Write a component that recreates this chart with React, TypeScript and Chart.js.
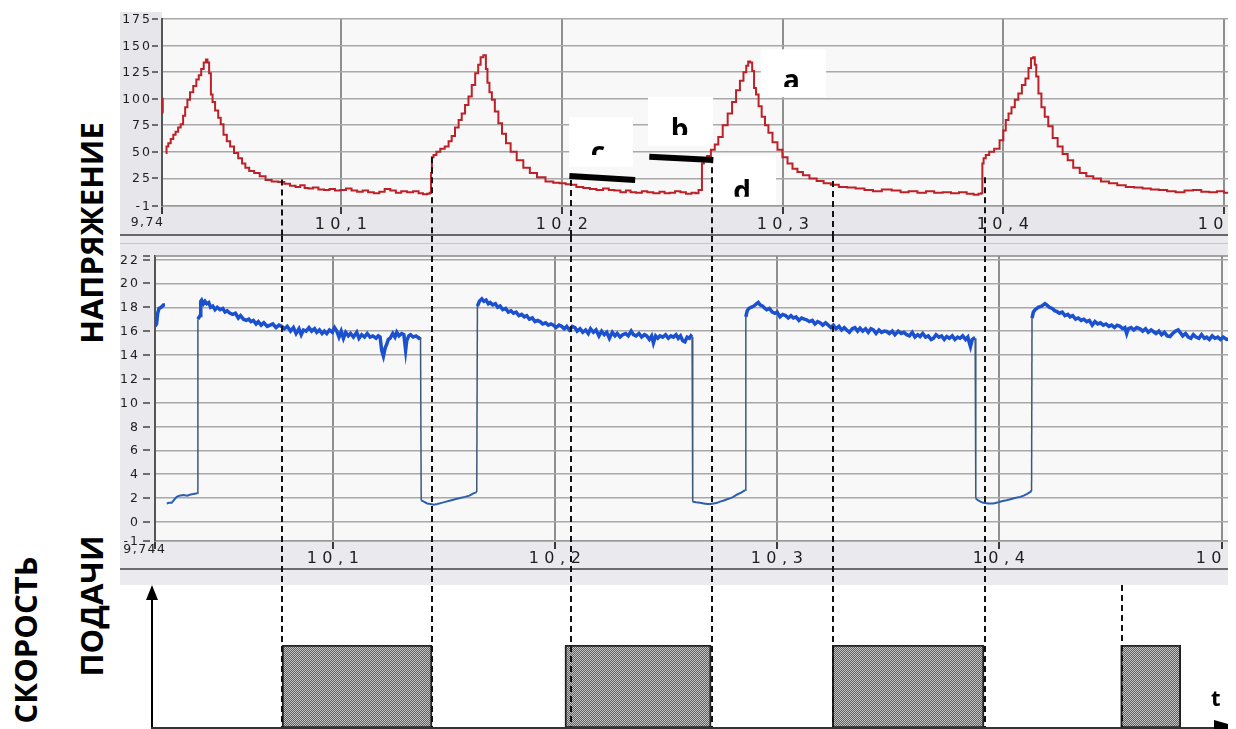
import React, { useEffect, useRef } from "react";
import { Chart, registerables } from "chart.js";
Chart.register(...registerables);

// ---------------- DATA ----------------
// Voltage panel (axis units of the upper time axis)
const voltXTicks = [10.0189, 10.1, 10.2, 10.3, 10.4, 10.5];
const voltXLabels = ["9,74", "10,1", "10,2", "10,3", "10,4", "10,5"];
const voltYTicks = [-1, 25, 50, 75, 100, 125, 150, 175];
const voltYLabels = ["-1", "25", "50", "75", "100", "125", "150", "175"];

const voltLead: [number, number | null][] = [[10.0189, 100], [10.0196, 87], [10.0200, null]];
const voltPulse1: [number, number | null][] = [
  [10.0206, 49], [10.0213, 55], [10.0222, 58], [10.0235, 62], [10.0245, 66], [10.0256, 69], [10.0268, 73], [10.0279, 76],
  [10.0290, 84], [10.0298, 92], [10.0310, 99], [10.0322, 106], [10.0339, 112], [10.0350, 118], [10.0361, 122], [10.0372, 128],
  [10.0384, 134], [10.0392, 137], [10.0398, 134], [10.0407, 124], [10.0414, 104], [10.0422, 97], [10.0437, 89], [10.0450, 82],
  [10.0460, 76], [10.0475, 66], [10.0490, 60], [10.0505, 55], [10.0525, 49], [10.0543, 44], [10.0560, 39], [10.0573, 35],
  [10.0595, 32], [10.0618, 30], [10.0645, 27], [10.0671, 23.5], [10.0700, 22], [10.0731, 21.5], [10.0755, 20], [10.0783, 18],
  [10.0805, 17], [10.0825, 18.5], [10.0845, 16], [10.0860, 15.5], [10.0885, 16.5], [10.0910, 14.5], [10.0935, 14], [10.0960, 15],
  [10.0985, 13.5], [10.1009, 14], [10.1035, 15.5], [10.1060, 13.5], [10.1086, 12.5], [10.1110, 13.5], [10.1135, 12], [10.1162, 11],
  [10.1185, 12.5], [10.1210, 15], [10.1236, 13.5], [10.1260, 11.5], [10.1285, 13], [10.1313, 12], [10.1340, 13], [10.1362, 11],
  [10.1380, 10], [10.1398, 10.5], [10.1405, 11.5],
];
const voltPulse2: [number, number | null][] = [
  [10.1410, 30], [10.1413, 45], [10.1425, 47], [10.1439, 50], [10.1460, 53], [10.1479, 55], [10.1495, 60], [10.1507, 65],
  [10.1525, 73], [10.1540, 80], [10.1553, 86], [10.1570, 94], [10.1584, 102], [10.1600, 113], [10.1615, 124], [10.1627, 132],
  [10.1637, 139], [10.1652, 141], [10.1660, 128], [10.1666, 115], [10.1678, 106], [10.1688, 99], [10.1705, 88], [10.1720, 77],
  [10.1738, 67], [10.1756, 58], [10.1780, 50], [10.1811, 42], [10.1840, 35], [10.1870, 30], [10.1905, 26], [10.1947, 22],
  [10.1975, 21], [10.2005, 20.5], [10.2030, 19.5], [10.2051, 19], [10.2080, 17], [10.2114, 16], [10.2140, 15], [10.2173, 14],
  [10.2200, 15.5], [10.2225, 14], [10.2250, 13.5], [10.2280, 12], [10.2300, 13.5], [10.2322, 12], [10.2350, 11.5], [10.2375, 13],
  [10.2399, 12], [10.2430, 11], [10.2455, 12.5], [10.2476, 11], [10.2500, 11.5], [10.2525, 13], [10.2549, 12], [10.2575, 10.5],
  [10.2600, 11.5], [10.2612, 11], [10.2626, 14], [10.2633, 14],
];
const voltPulse3: [number, number | null][] = [
  [10.2636, 39], [10.2650, 43], [10.2665, 46], [10.2685, 52], [10.2700, 57], [10.2717, 64], [10.2740, 75], [10.2762, 86],
  [10.2780, 97], [10.2798, 108], [10.2815, 117], [10.2830, 125], [10.2840, 131], [10.2848, 135], [10.2858, 134], [10.2866, 126],
  [10.2875, 110], [10.2884, 104], [10.2898, 93], [10.2912, 83], [10.2928, 75], [10.2943, 68], [10.2965, 59], [10.2988, 52],
  [10.3010, 45], [10.3034, 39], [10.3055, 34], [10.3079, 31], [10.3105, 28], [10.3138, 25], [10.3170, 22.5], [10.3201, 20.5],
  [10.3235, 19], [10.3274, 17], [10.3310, 16.5], [10.3351, 15.5], [10.3390, 14], [10.3428, 13], [10.3470, 14.5], [10.3518, 13.5],
  [10.3550, 12], [10.3591, 13], [10.3630, 11.5], [10.3668, 13], [10.3705, 11.5], [10.3745, 12], [10.3780, 11], [10.3817, 12],
  [10.3850, 10.5], [10.3880, 9.5], [10.3894, 10.5], [10.3903, 11],
];
const voltPulse4: [number, number | null][] = [
  [10.3906, 39], [10.3914, 44], [10.3926, 47], [10.3945, 50], [10.3971, 53], [10.3994, 61], [10.4005, 70], [10.4016, 80],
  [10.4030, 86], [10.4043, 92], [10.4060, 99], [10.4075, 105], [10.4092, 113], [10.4107, 119], [10.4120, 129], [10.4130, 138],
  [10.4139, 139], [10.4145, 132], [10.4152, 121], [10.4165, 105], [10.4179, 92], [10.4195, 83], [10.4211, 74], [10.4235, 63],
  [10.4256, 55], [10.4280, 48], [10.4302, 42], [10.4330, 35], [10.4361, 30], [10.4390, 27], [10.4424, 25], [10.4460, 22],
  [10.4496, 20.5], [10.4535, 18.5], [10.4573, 17], [10.4610, 16.5], [10.4650, 15.5], [10.4685, 14.5], [10.4723, 14], [10.4760, 13],
  [10.4800, 12], [10.4840, 13.5], [10.4877, 14], [10.4915, 12.5], [10.4949, 12], [10.4985, 13], [10.5013, 11.5], [10.5060, 12.5],
  [10.5150, 12],
];

// Wire-feed-speed panel (axis units of the lower time axis)
const speedXTicks = [10.0200, 10.1, 10.2, 10.3, 10.4, 10.5];
const speedXLabels = ["9,744", "10,1", "10,2", "10,3", "10,4", "10,5"];
const speedYTicks = [-1.6, 0, 2, 4, 6, 8, 10, 12, 14, 16, 18, 20, 22];
const speedYLabels = ["-1", "0", "2", "4", "6", "8", "10", "12", "14", "16", "18", "20", "22"];

const speedLead: [number, number | null][] = [
  [10.0200, 16.4], [10.0207, 16.6], [10.0212, 17.5], [10.0218, 17.9], [10.0228, 18.0], [10.0238, 18.2], [10.0245, 18.2], [10.0249, null],
];
const speedLow1: [number, number | null][] = [
  [10.0253, 1.55], [10.0263, 1.6], [10.0275, 1.6], [10.0288, 1.9], [10.0298, 2.1], [10.0310, 2.2], [10.0328, 2.25], [10.0345, 2.2],
  [10.0360, 2.3], [10.0373, 2.35], [10.0391, 2.4],
];
const speedHigh1: [number, number | null][] = [
  [10.0393, 17.0], [10.0403, 17.3], [10.0406, 18.5], [10.0410, 18.6], [10.0418, 18.3], [10.0425, 18.5], [10.0433, 18.3], [10.0442, 18.4],
  [10.0450, 18.0], [10.0460, 18.1], [10.0470, 17.8], [10.0480, 18.0], [10.0493, 17.8], [10.0505, 17.9], [10.0515, 17.6], [10.0525, 17.7],
  [10.0538, 17.5], [10.0550, 17.4], [10.0562, 17.5], [10.0575, 17.1], [10.0585, 17.3], [10.0598, 17.0], [10.0610, 16.9], [10.0622, 17.0],
  [10.0632, 16.8], [10.0643, 16.9], [10.0655, 16.6], [10.0665, 16.8], [10.0678, 16.5], [10.0690, 16.7], [10.0705, 16.4], [10.0718, 16.5],
  [10.0730, 16.6], [10.0745, 16.3], [10.0758, 16.5], [10.0770, 16.4], [10.0782, 16.2], [10.0795, 16.4], [10.0810, 16.0], [10.0823, 16.3],
  [10.0835, 15.8], [10.0848, 16.2], [10.0858, 15.7], [10.0868, 16.1], [10.0880, 16.0], [10.0893, 16.3], [10.0905, 16.0], [10.0918, 16.2],
  [10.0928, 15.9], [10.0940, 16.1], [10.0952, 15.8], [10.0962, 16.0], [10.0973, 15.8], [10.0985, 16.1], [10.0998, 15.9], [10.1008, 16.3],
  [10.1018, 16.0], [10.1028, 15.5], [10.1038, 16.0], [10.1048, 15.4], [10.1058, 15.9], [10.1070, 15.6], [10.1080, 15.8], [10.1093, 15.5],
  [10.1108, 15.9], [10.1118, 15.4], [10.1130, 15.7], [10.1143, 15.5], [10.1155, 15.8], [10.1168, 15.5], [10.1180, 15.6], [10.1195, 15.4],
  [10.1205, 15.6], [10.1213, 15.5], [10.1220, 14.4], [10.1228, 13.9], [10.1236, 14.6], [10.1243, 14.9], [10.1250, 15.3], [10.1258, 15.4],
  [10.1270, 15.8], [10.1280, 15.5], [10.1288, 15.9], [10.1298, 15.6], [10.1310, 15.8], [10.1320, 15.7], [10.1328, 14.4], [10.1333, 15.2],
  [10.1342, 15.6], [10.1350, 15.7], [10.1362, 15.5], [10.1375, 15.6], [10.1388, 15.4], [10.1395, 15.5],
];
const speedLow2: [number, number | null][] = [
  [10.1398, 1.8], [10.1410, 1.7], [10.1425, 1.55], [10.1440, 1.5], [10.1455, 1.45], [10.1470, 1.5], [10.1490, 1.6], [10.1510, 1.7],
  [10.1530, 1.8], [10.1550, 1.9], [10.1573, 2.0], [10.1595, 2.1], [10.1615, 2.2], [10.1633, 2.4], [10.1648, 2.5],
];
const speedHigh2: [number, number | null][] = [
  [10.1651, 18.1], [10.1660, 18.5], [10.1671, 18.7], [10.1680, 18.5], [10.1690, 18.6], [10.1700, 18.3], [10.1708, 18.4], [10.1720, 18.2],
  [10.1732, 18.3], [10.1742, 18.0], [10.1753, 18.1], [10.1765, 17.8], [10.1778, 17.9], [10.1790, 17.6], [10.1802, 17.7], [10.1813, 17.5],
  [10.1825, 17.6], [10.1838, 17.3], [10.1850, 17.4], [10.1862, 17.2], [10.1873, 17.3], [10.1885, 17.0], [10.1898, 17.1], [10.1910, 16.8],
  [10.1922, 16.9], [10.1933, 16.8], [10.1945, 16.6], [10.1958, 16.7], [10.1970, 16.5], [10.1982, 16.6], [10.1993, 16.5], [10.2005, 16.3],
  [10.2018, 16.5], [10.2030, 16.4], [10.2042, 16.2], [10.2053, 16.4], [10.2065, 16.1], [10.2078, 16.4], [10.2090, 16.3], [10.2100, 16.0],
  [10.2113, 16.2], [10.2125, 15.9], [10.2138, 16.1], [10.2150, 15.8], [10.2160, 16.2], [10.2173, 15.9], [10.2185, 16.1], [10.2198, 15.6],
  [10.2210, 16.0], [10.2222, 15.7], [10.2233, 15.9], [10.2245, 15.4], [10.2258, 15.9], [10.2270, 15.6], [10.2280, 15.8], [10.2293, 15.5],
  [10.2305, 15.7], [10.2318, 15.8], [10.2330, 15.6], [10.2343, 16.0], [10.2353, 15.7], [10.2365, 15.6], [10.2378, 15.8], [10.2390, 15.5],
  [10.2403, 15.7], [10.2413, 15.6], [10.2425, 15.3], [10.2435, 15.6], [10.2443, 15.0], [10.2453, 15.6], [10.2463, 15.4], [10.2473, 15.6],
  [10.2485, 15.5], [10.2498, 15.7], [10.2510, 15.4], [10.2522, 15.6], [10.2533, 15.5], [10.2545, 15.7], [10.2555, 15.4], [10.2565, 15.6],
  [10.2575, 15.2], [10.2585, 15.1], [10.2595, 15.5], [10.2605, 15.4], [10.2612, 15.6], [10.2617, 15.5],
];
const speedLow3: [number, number | null][] = [
  [10.2620, 1.7], [10.2635, 1.65], [10.2653, 1.6], [10.2670, 1.55], [10.2685, 1.5], [10.2698, 1.5], [10.2715, 1.55], [10.2730, 1.6],
  [10.2743, 1.7], [10.2760, 1.8], [10.2775, 1.9], [10.2790, 2.0], [10.2803, 2.1], [10.2820, 2.3], [10.2838, 2.45], [10.2856, 2.66],
];
const speedHigh3: [number, number | null][] = [
  [10.2859, 17.2], [10.2865, 17.7], [10.2872, 17.9], [10.2882, 18.0], [10.2895, 18.1], [10.2908, 18.3], [10.2915, 18.4], [10.2923, 18.2],
  [10.2935, 18.1], [10.2945, 17.9], [10.2953, 17.8], [10.2965, 17.9], [10.2978, 17.6], [10.2990, 17.5], [10.3000, 17.6], [10.3013, 17.2],
  [10.3025, 17.4], [10.3038, 17.3], [10.3050, 17.1], [10.3062, 17.3], [10.3073, 17.1], [10.3085, 17.2], [10.3098, 16.9], [10.3110, 17.1],
  [10.3122, 17.0], [10.3133, 16.95], [10.3145, 16.8], [10.3158, 16.9], [10.3170, 16.6], [10.3182, 16.8], [10.3193, 16.7], [10.3205, 16.5],
  [10.3218, 16.7], [10.3230, 16.5], [10.3242, 16.3], [10.3253, 16.5], [10.3265, 16.2], [10.3278, 16.4], [10.3290, 16.1], [10.3302, 16.3],
  [10.3313, 16.1], [10.3325, 15.9], [10.3338, 16.2], [10.3350, 16.3], [10.3362, 16.0], [10.3373, 16.25], [10.3385, 16.0], [10.3398, 16.2],
  [10.3410, 15.9], [10.3422, 16.2], [10.3433, 16.1], [10.3445, 15.8], [10.3458, 16.1], [10.3470, 15.9], [10.3482, 16.0], [10.3493, 15.97],
  [10.3505, 15.8], [10.3518, 16.0], [10.3530, 15.7], [10.3545, 16.0], [10.3558, 15.8], [10.3570, 15.9], [10.3583, 15.7], [10.3595, 15.6],
  [10.3608, 15.9], [10.3620, 15.5], [10.3633, 15.7], [10.3643, 15.55], [10.3655, 15.8], [10.3668, 15.5], [10.3680, 15.6], [10.3693, 15.3],
  [10.3703, 15.4], [10.3715, 15.7], [10.3728, 15.5], [10.3740, 15.6], [10.3752, 15.3], [10.3763, 15.55], [10.3775, 15.4], [10.3788, 15.6],
  [10.3800, 15.3], [10.3812, 15.5], [10.3823, 15.4], [10.3835, 15.6], [10.3848, 15.3], [10.3858, 15.5], [10.3865, 15.0], [10.3870, 14.7],
  [10.3878, 15.3], [10.3885, 15.4], [10.3891, 15.4],
];
const speedLow4: [number, number | null][] = [
  [10.3894, 1.97], [10.3905, 1.8], [10.3915, 1.7], [10.3928, 1.6], [10.3950, 1.55], [10.3973, 1.55], [10.3995, 1.65], [10.4015, 1.75],
  [10.4033, 1.82], [10.4050, 1.9], [10.4070, 2.0], [10.4093, 2.1], [10.4110, 2.2], [10.4125, 2.35], [10.4138, 2.5], [10.4145, 2.6],
];
const speedHigh4: [number, number | null][] = [
  [10.4147, 17.1], [10.4153, 17.6], [10.4161, 17.8], [10.4175, 18.0], [10.4190, 18.1], [10.4205, 18.3], [10.4213, 18.2], [10.4225, 18.0],
  [10.4238, 17.9], [10.4250, 17.7], [10.4258, 17.65], [10.4270, 17.5], [10.4283, 17.6], [10.4295, 17.3], [10.4308, 17.4], [10.4318, 17.2],
  [10.4330, 17.3], [10.4343, 17.0], [10.4355, 17.1], [10.4368, 16.9], [10.4380, 17.0], [10.4393, 16.8], [10.4405, 16.9], [10.4418, 16.5],
  [10.4430, 16.8], [10.4443, 16.6], [10.4455, 16.7], [10.4468, 16.5], [10.4480, 16.6], [10.4493, 16.4], [10.4505, 16.5], [10.4518, 16.3],
  [10.4530, 16.5], [10.4543, 16.4], [10.4555, 16.2], [10.4565, 16.3], [10.4573, 15.8], [10.4580, 16.2], [10.4593, 16.3], [10.4605, 16.1],
  [10.4618, 16.3], [10.4633, 16.2], [10.4645, 16.0], [10.4658, 16.2], [10.4670, 15.9], [10.4683, 16.1], [10.4693, 15.97], [10.4705, 15.8],
  [10.4718, 16.0], [10.4730, 15.7], [10.4743, 15.9], [10.4755, 15.6], [10.4768, 15.55], [10.4780, 15.8], [10.4793, 16.0], [10.4805, 16.1],
  [10.4813, 15.9], [10.4825, 15.6], [10.4838, 15.8], [10.4850, 15.5], [10.4862, 15.4], [10.4873, 15.7], [10.4885, 15.5], [10.4898, 15.4],
  [10.4910, 15.7], [10.4923, 15.4], [10.4933, 15.5], [10.4945, 15.3], [10.4958, 15.6], [10.4970, 15.4], [10.4983, 15.5], [10.4995, 15.3],
  [10.5008, 15.5], [10.5023, 15.3], [10.5060, 15.4], [10.5120, 15.3],
];

// Feed schematic (upper time axis units)
const feedStart = [10.0733, 10.2014, 10.3225, 10.4531];
const feedEnd = [10.1412, 10.2676, 10.3912, 10.4803];

// Dashed markers: time and the voltage where each one starts (null = starts below the panels)
const dashTimes = [10.0731, 10.1411, 10.2040, 10.2680, 10.3228, 10.3917, 10.4535];
const dashFromVolt: (number | null)[] = [24, 45, 23.5, 45, 22.5, 26, null];

// Letter marks on the voltage panel
const markLetters = ["a", "b", "c", "d"];
const markBoxT0 = [10.2901, 10.2390, 10.2033, 10.2683];
const markBoxT1 = [10.3197, 10.2685, 10.2322, 10.2970];
const markBoxVTop = [146.5, 101.9, 82.5, 46.1];
const markBoxVBottom = [101.3, 55.8, 36.0, 0];
const markLetterT = [10.3040, 10.2533, 10.2164, 10.2816];
const markLetterV = [108.2, 61.8, 40.7, 3.7];
const markCutV = [111, 65.8, 47, 7.8];
// Thick level bars (b and c)
const levelT0 = [10.2396, 10.2034];
const levelT1 = [10.2686, 10.2332];
const levelV0 = [45.4, 27.2];
const levelV1 = [42.3, 23.5];

// ---------------- STYLE / LAYOUT ----------------
const VOLT_X_MAX = 10.5162;
const SPEED_X_MAX = 10.5173;
const PLOT_BG = "#f8f8f9";
const BAND = "#e6e6eb";
const RED = "#bd2128";
const HIGH_BLUE = "#1b50cf";
const LOW_BLUE = "#2d5fae";
const EDGE_BLUE = "#3e5878";
const TICK_FONT = "12.5px 'DejaVu Sans'";
const XTICK_FONT = "16px 'DejaVu Sans'";
const TICK_COLOR = "#1e1e1e";
const CANVAS_LEFT = 120;
const CANVAS_W = 1140;
const TOP_H = 236;
const MID_TOP = 236;
const MID_H = 349;
const OVL_TOP = 236;
const OVL_H = 493;

function toPoints(...parts: [number, number | null][][]) {
  return parts.flat().map(([x, y]) => ({ x, y }));
}

function setSpacing(ctx: any, v: string) {
  ctx.letterSpacing = v;
}

function drawYTicks(chart: any, values: number[], labels: string[], labelGap: number, t0: number, t1: number, extraTop: boolean) {
  const { ctx, chartArea: a, scales } = chart;
  const ys = scales.y;
  ctx.save();
  ctx.font = TICK_FONT;
  setSpacing(ctx, "2px");
  ctx.fillStyle = TICK_COLOR;
  ctx.textAlign = "right";
  ctx.textBaseline = "middle";
  ctx.strokeStyle = "#444";
  ctx.lineWidth = 1.5;
  values.forEach((v, i) => {
    const y = Math.round(ys.getPixelForValue(v));
    ctx.fillText(labels[i], a.left - labelGap + 2, y + 0.5);
    ctx.beginPath();
    ctx.moveTo(a.left - t0, y);
    ctx.lineTo(a.left - t1, y);
    ctx.stroke();
  });
  if (extraTop) {
    ctx.beginPath();
    ctx.moveTo(a.left - t0, a.top);
    ctx.lineTo(a.left - t1, a.top);
    ctx.stroke();
  }
  setSpacing(ctx, "0px");
  ctx.restore();
}

function drawXTicks(chart: any, values: number[], labels: string[], base: number, firstBase: number, firstRight: number) {
  const { ctx, chartArea: a, scales } = chart;
  const xs = scales.x;
  ctx.save();
  ctx.fillStyle = TICK_COLOR;
  ctx.strokeStyle = "#3a3a3a";
  ctx.lineWidth = 2;
  ctx.textBaseline = "alphabetic";
  values.forEach((v, i) => {
    const x = Math.round(xs.getPixelForValue(v));
    ctx.beginPath();
    ctx.moveTo(x, a.bottom + 1);
    ctx.lineTo(x, a.bottom + 8);
    ctx.stroke();
    if (i === 0) {
      ctx.font = TICK_FONT;
      setSpacing(ctx, "1.5px");
      ctx.textAlign = "right";
      ctx.fillText(labels[i], x + firstRight + 1.5, a.bottom + firstBase);
    } else {
      ctx.font = XTICK_FONT;
      setSpacing(ctx, "5.5px");
      ctx.textAlign = "center";
      ctx.fillText(labels[i], x + 2.5, a.bottom + base);
    }
  });
  setSpacing(ctx, "0px");
  ctx.restore();
}

const voltPlugin = {
  id: "voltDecor",
  beforeDraw(chart: any) {
    const { ctx, chartArea: a, width, height } = chart;
    ctx.save();
    ctx.fillStyle = BAND;
    ctx.fillRect(0, a.top - 7, a.left, a.bottom - a.top + 7);
    ctx.fillRect(0, a.bottom, width, height - a.bottom);
    ctx.fillStyle = PLOT_BG;
    ctx.fillRect(a.left, a.top, a.right - a.left, a.bottom - a.top);
    ctx.fillStyle = "#66666c";
    ctx.fillRect(0, height - 2, width, 2);
    ctx.restore();
  },
  afterDatasetsDraw(chart: any) {
    const { ctx, scales, height } = chart;
    const xs = scales.x;
    const ys = scales.y;
    ctx.save();
    // white label boxes with clipped letters
    markLetters.forEach((ch, i) => {
      const x0 = xs.getPixelForValue(markBoxT0[i]);
      const x1 = xs.getPixelForValue(markBoxT1[i]);
      const y0 = ys.getPixelForValue(markBoxVTop[i]);
      const y1 = ys.getPixelForValue(markBoxVBottom[i]);
      ctx.fillStyle = "#ffffff";
      ctx.fillRect(x0, y0, x1 - x0, y1 - y0);
      const cut = ys.getPixelForValue(markCutV[i]);
      ctx.save();
      ctx.beginPath();
      ctx.rect(x0, y0, x1 - x0, cut - y0);
      ctx.clip();
      ctx.fillStyle = "#000";
      ctx.font = "700 28px 'Open Sans'";
      ctx.textAlign = "center";
      ctx.textBaseline = "alphabetic";
      ctx.fillText(ch, xs.getPixelForValue(markLetterT[i]), ys.getPixelForValue(markLetterV[i]));
      ctx.restore();
    });
    // dashed markers
    ctx.strokeStyle = "#111";
    ctx.lineWidth = 2;
    ctx.setLineDash([6, 4]);
    dashTimes.forEach((t, i) => {
      const v = dashFromVolt[i];
      if (v === null) return;
      const x = Math.round(xs.getPixelForValue(t));
      ctx.beginPath();
      ctx.moveTo(x, ys.getPixelForValue(v));
      ctx.lineTo(x, height);
      ctx.stroke();
    });
    ctx.setLineDash([]);
    // thick level bars
    ctx.lineWidth = 6;
    ctx.strokeStyle = "#000";
    levelT0.forEach((t, i) => {
      ctx.beginPath();
      ctx.moveTo(xs.getPixelForValue(t), ys.getPixelForValue(levelV0[i]));
      ctx.lineTo(xs.getPixelForValue(levelT1[i]), ys.getPixelForValue(levelV1[i]));
      ctx.stroke();
    });
    ctx.restore();
  },
  afterDraw(chart: any) {
    drawYTicks(chart, voltYTicks, voltYLabels, 12, 10, 4, false);
    drawXTicks(chart, voltXTicks, voltXLabels, 23, 20, 1);
  },
};

const speedPlugin = {
  id: "speedDecor",
  beforeDraw(chart: any) {
    const { ctx, chartArea: a, width, height } = chart;
    ctx.save();
    ctx.fillStyle = "#e9e9ee";
    ctx.fillRect(0, 0, width, height);
    ctx.fillStyle = "#c4c4ca";
    ctx.fillRect(0, 7, width, 1);
    ctx.fillStyle = PLOT_BG;
    ctx.fillRect(a.left, a.top, a.right - a.left, a.bottom - a.top);
    ctx.fillStyle = "#6b6b72";
    ctx.fillRect(0, a.bottom + 27, width, 2);
    ctx.fillStyle = "#ebebef";
    ctx.fillRect(0, a.bottom + 29, width, height - a.bottom - 29);
    ctx.restore();
  },
  afterDraw(chart: any) {
    const { ctx, chartArea: a } = chart;
    ctx.save();
    ctx.strokeStyle = "#8a8a8a";
    ctx.lineWidth = 1.5;
    ctx.beginPath();
    ctx.moveTo(a.left, a.top);
    ctx.lineTo(a.right, a.top);
    ctx.stroke();
    ctx.restore();
    drawYTicks(chart, speedYTicks, speedYLabels, 17, 12, 5, true);
    drawXTicks(chart, speedXTicks, speedXLabels, 22, 12, 10);
  },
};

const feedPlugin = {
  id: "feedDecor",
  afterDatasetsDraw(chart: any) {
    const { ctx, chartArea: a, scales, width } = chart;
    const xs = scales.x;
    const belowPanels = 585 - OVL_TOP;
    ctx.save();
    ctx.strokeStyle = "#111";
    ctx.lineWidth = 2;
    ctx.setLineDash([6, 4]);
    dashTimes.forEach((t, i) => {
      const x = Math.round(xs.getPixelForValue(t));
      ctx.beginPath();
      ctx.moveTo(x, dashFromVolt[i] === null ? belowPanels : 0);
      ctx.lineTo(x, a.bottom);
      ctx.stroke();
    });
    ctx.setLineDash([]);
    // axes with arrows
    const ax = a.left - 10;
    ctx.fillStyle = "#000";
    ctx.strokeStyle = "#000";
    ctx.lineWidth = 2;
    ctx.beginPath();
    ctx.moveTo(ax, a.bottom);
    ctx.lineTo(ax, belowPanels + 12);
    ctx.stroke();
    ctx.beginPath();
    ctx.moveTo(ax, belowPanels);
    ctx.lineTo(ax - 6, belowPanels + 15);
    ctx.lineTo(ax + 6, belowPanels + 15);
    ctx.closePath();
    ctx.fill();
    ctx.strokeStyle = "#333";
    ctx.lineWidth = 2;
    ctx.beginPath();
    ctx.moveTo(ax - 1, a.bottom);
    ctx.lineTo(width, a.bottom);
    ctx.stroke();
    const tip = 1242 - CANVAS_LEFT;
    ctx.beginPath();
    ctx.moveTo(tip, a.bottom);
    ctx.lineTo(tip - 28, a.bottom - 8);
    ctx.lineTo(tip - 28, a.bottom + 8);
    ctx.closePath();
    ctx.fill();
    ctx.restore();
  },
};

export default function App() {
  const topRef = useRef<HTMLCanvasElement>(null);
  const midRef = useRef<HTMLCanvasElement>(null);
  const ovlRef = useRef<HTMLCanvasElement>(null);

  useEffect(() => {
    const common: any = {
      animation: false,
      responsive: false,
      devicePixelRatio: 1,
      events: [],
      plugins: { legend: { display: false }, tooltip: { enabled: false } },
    };

    const top = new Chart(topRef.current as HTMLCanvasElement, {
      type: "line",
      data: {
        datasets: [
          {
            data: toPoints(voltLead, voltPulse1, voltPulse2, voltPulse3, voltPulse4) as any,
            borderColor: RED,
            borderWidth: 2,
            pointRadius: 0,
            tension: 0,
            stepped: "middle",
            spanGaps: false,
          },
        ],
      },
      options: {
        ...common,
        layout: { padding: { top: 19, left: 0, right: 0, bottom: 0 } },
        scales: {
          x: {
            type: "linear",
            min: voltXTicks[0],
            max: VOLT_X_MAX,
            ticks: { display: false },
            afterBuildTicks: (s: any) => {
              s.ticks = voltXTicks.map((v) => ({ value: v }));
            },
            afterFit: (s: any) => {
              s.height = 30;
            },
            grid: { color: "#8f8f8f", lineWidth: 2, drawTicks: false },
            border: { display: true, color: "#9a9a9a", width: 1.5 },
          },
          y: {
            type: "linear",
            min: -1,
            max: 175,
            ticks: { display: false },
            afterBuildTicks: (s: any) => {
              s.ticks = voltYTicks.map((v) => ({ value: v }));
            },
            afterFit: (s: any) => {
              s.width = 42;
            },
            grid: { color: "#a8a8a8", lineWidth: 1.5, drawTicks: false },
            border: { display: true, color: "#555", width: 2 },
          },
        },
      } as any,
      plugins: [voltPlugin],
    });

    const segColor = (c: any) => {
      const a = c.p0.parsed.y;
      const b = c.p1.parsed.y;
      if (a > 8 && b > 8) return HIGH_BLUE;
      if (a < 8 && b < 8) return LOW_BLUE;
      return EDGE_BLUE;
    };
    const segWidth = (c: any) => {
      const a = c.p0.parsed.y;
      const b = c.p1.parsed.y;
      if (a > 8 && b > 8) return 3.5;
      if (a < 8 && b < 8) return 2;
      return 1.5;
    };

    const mid = new Chart(midRef.current as HTMLCanvasElement, {
      type: "line",
      data: {
        datasets: [
          {
            data: toPoints(speedLead, speedLow1, speedHigh1, speedLow2, speedHigh2, speedLow3, speedHigh3, speedLow4, speedHigh4) as any,
            borderColor: HIGH_BLUE,
            borderWidth: 2,
            pointRadius: 0,
            tension: 0,
            spanGaps: false,
            segment: { borderColor: segColor, borderWidth: segWidth },
          } as any,
        ],
      },
      options: {
        ...common,
        layout: { padding: { top: 20, left: 0, right: 0, bottom: 0 } },
        scales: {
          x: {
            type: "linear",
            min: speedXTicks[0],
            max: SPEED_X_MAX,
            ticks: { display: false },
            afterBuildTicks: (s: any) => {
              s.ticks = speedXTicks.map((v) => ({ value: v }));
            },
            afterFit: (s: any) => {
              s.height = 44;
            },
            grid: { color: "#8f8f8f", lineWidth: 2, drawTicks: false },
            border: { display: true, color: "#9a9a9a", width: 1.5 },
          },
          y: {
            type: "linear",
            min: -1.6,
            max: 22.3,
            ticks: { display: false },
            afterBuildTicks: (s: any) => {
              s.ticks = speedYTicks.map((v) => ({ value: v }));
            },
            afterFit: (s: any) => {
              s.width = 35;
            },
            grid: { color: "#a8a8a8", lineWidth: 1.5, drawTicks: false },
            border: { display: true, color: "#555", width: 2 },
          },
        },
      } as any,
      plugins: [speedPlugin],
    });

    const pc = document.createElement("canvas");
    pc.width = 2;
    pc.height = 2;
    const pctx = pc.getContext("2d") as CanvasRenderingContext2D;
    pctx.fillStyle = "#5e5e5e";
    pctx.fillRect(0, 0, 2, 2);
    pctx.fillStyle = "#c6c6c6";
    pctx.fillRect(0, 0, 1, 1);
    pctx.fillRect(1, 1, 1, 1);
    const octx = (ovlRef.current as HTMLCanvasElement).getContext("2d") as CanvasRenderingContext2D;
    const pattern = octx.createPattern(pc, "repeat");

    const ovl = new Chart(ovlRef.current as HTMLCanvasElement, {
      type: "bar",
      data: {
        labels: ["feed"],
        datasets: [
          {
            data: feedStart.map((s, i) => ({ x: [s, feedEnd[i]], y: "feed" })) as any,
            backgroundColor: pattern as any,
            borderColor: "#222",
            borderWidth: 2,
            borderSkipped: false,
            barPercentage: 1,
            categoryPercentage: 1,
          },
        ],
      },
      options: {
        ...common,
        indexAxis: "y",
        layout: { padding: { top: 409, left: 42, right: 0, bottom: 1 } },
        scales: {
          x: { type: "linear", min: voltXTicks[0], max: VOLT_X_MAX, display: false },
          y: { type: "category", display: false },
        },
      } as any,
      plugins: [feedPlugin],
    });

    return () => {
      top.destroy();
      mid.destroy();
      ovl.destroy();
    };
  }, []);

  const vlabel = (text: string, cx: number, cy: number) => (
    <div
      style={{
        position: "absolute",
        left: cx,
        top: cy,
        transform: "translate(-50%, -50%) rotate(-90deg)",
        font: "700 31px 'Open Sans'",
        lineHeight: "31px",
        whiteSpace: "nowrap",
        color: "#000",
      }}
    >
      {text}
    </div>
  );

  return (
    <div style={{ position: "absolute", left: 0, top: 0, width: 1236, height: 729, background: "#fff", overflow: "hidden" }}>
      <div style={{ position: "absolute", left: 0, top: 0, width: 1228, height: 729, overflow: "hidden" }}>
        <canvas
          ref={topRef}
          width={CANVAS_W}
          height={TOP_H}
          style={{ position: "absolute", left: CANVAS_LEFT, top: 0, width: CANVAS_W, height: TOP_H }}
        />
        <canvas
          ref={midRef}
          width={CANVAS_W}
          height={MID_H}
          style={{ position: "absolute", left: CANVAS_LEFT, top: MID_TOP, width: CANVAS_W, height: MID_H }}
        />
        <canvas
          ref={ovlRef}
          width={CANVAS_W}
          height={OVL_H}
          style={{ position: "absolute", left: CANVAS_LEFT, top: OVL_TOP, width: CANVAS_W, height: OVL_H }}
        />
        <div style={{ position: "absolute", left: 1211, top: 686, font: "700 22px 'Open Sans'", lineHeight: "22px", color: "#000" }}>t</div>
      </div>
      {vlabel("НАПРЯЖЕНИЕ", 91, 233)}
      {vlabel("ПОДАЧИ", 91, 606)}
      {vlabel("СКОРОСТЬ", 25, 640)}
    </div>
  );
}
